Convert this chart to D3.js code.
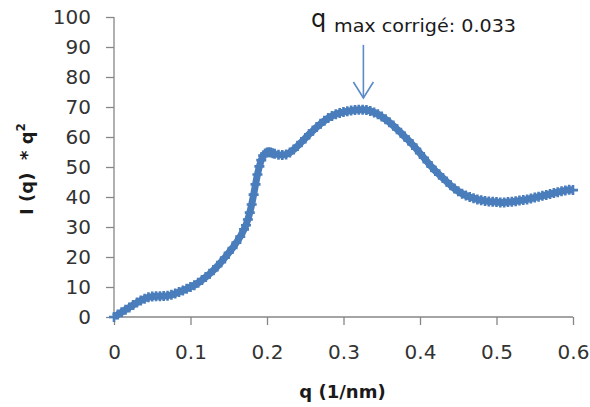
<!DOCTYPE html>
<html><head><meta charset="utf-8">
<script src="https://cdn.jsdelivr.net/npm/d3@7"></script>
<style>
html,body{margin:0;padding:0;background:#fff;}
svg{display:block;}
text{font-family:"DejaVu Sans",Verdana,sans-serif;}
</style></head>
<body>
<script>
// ---- data ----
const qValues = [
0.000,0.005,0.010,0.015,0.020,0.025,0.030,0.035,0.040,0.045,
0.050,0.055,0.060,0.065,0.070,0.075,0.080,0.085,0.090,0.095,
0.100,0.105,0.110,0.115,0.120,0.125,0.130,0.135,0.140,0.145,
0.150,0.155,0.160,0.165,0.170,0.1725,0.175,0.1775,0.180,0.1825,
0.185,0.1875,0.190,0.1925,0.195,0.1975,0.200,0.2025,0.205,0.2075,
0.210,0.215,0.220,0.225,0.230,0.235,0.240,0.245,0.250,0.255,
0.260,0.265,0.270,0.275,0.280,0.285,0.290,0.295,0.300,0.305,
0.310,0.315,0.320,0.325,0.330,0.335,0.340,0.345,0.350,0.355,
0.360,0.365,0.370,0.375,0.380,0.385,0.390,0.395,0.400,0.405,
0.410,0.415,0.420,0.425,0.430,0.435,0.440,0.445,0.450,0.455,
0.460,0.465,0.470,0.475,0.480,0.485,0.490,0.495,0.500,0.505,
0.510,0.515,0.520,0.525,0.530,0.535,0.540,0.545,0.550,0.555,
0.560,0.565,0.570,0.575,0.580,0.585,0.590,0.595,0.600
];
const intensityValues = [
0.0,0.8,1.6,2.4,3.2,4.0,4.8,5.5,6.1,6.6,
6.8,6.9,6.9,7.0,7.1,7.4,7.8,8.3,8.8,9.4,
10.0,10.6,11.4,12.3,13.3,14.4,15.6,16.9,18.3,19.8,
21.4,23.0,24.8,26.8,29.2,30.6,32.5,34.8,37.5,40.8,
44.2,47.5,50.2,52.3,53.8,54.5,54.8,54.9,54.8,54.6,
54.4,54.1,54.0,54.2,54.8,55.8,57.0,58.3,59.6,60.9,
62.1,63.3,64.4,65.4,66.3,67.0,67.6,68.0,68.3,68.6,
68.8,69.0,69.1,69.1,69.0,68.7,68.2,67.6,66.8,65.9,
64.9,63.8,62.6,61.4,60.1,58.9,57.5,56.1,54.6,53.1,
51.6,50.1,48.7,47.5,46.3,45.1,43.9,42.8,41.9,41.1,
40.5,40.0,39.6,39.2,38.9,38.7,38.5,38.4,38.3,38.2,
38.2,38.3,38.4,38.6,38.8,39.0,39.2,39.5,39.8,40.1,
40.4,40.7,41.0,41.3,41.6,41.9,42.2,42.4,42.3
];
const xTicks = [0,0.1,0.2,0.3,0.4,0.5,0.6];
const yTicks = [0,10,20,30,40,50,60,70,80,90,100];
const xTitle = "q (1/nm)";
const yTitleMain = "I (q)  * q";
const yTitleSup = "2";
const annoQ = "q";
const annoText = "max corrigé: 0.033";
const annoArrowQ = 0.326;
const annoArrowFrom = 90.7;
const annoArrowTo = 73;

// ---- layout ----
const W = 590, H = 407;
const mLeft = 114, mRight = 573, mTop = 17, mBottom = 317;
const axisColor = "#868686";
const seriesColor = "#4a7dbb";

const svg = d3.select("body").append("svg").attr("width", W).attr("height", H);

const x = d3.scaleLinear().domain([0, 0.6]).range([mLeft, mRight]);
const y = d3.scaleLinear().domain([0, 100]).range([mBottom, mTop]);

// Y axis
const yAxis = d3.axisLeft(y).tickValues(yTicks).tickSize(8).tickPadding(15).tickFormat(d3.format("d"));
const gy = svg.append("g").attr("transform", `translate(${mLeft},0)`).call(yAxis);
// X axis
const xAxis = d3.axisBottom(x).tickValues(xTicks).tickSize(8).tickPadding(20)
  .tickFormat(d => d === 0 ? "0" : d3.format(".1f")(d));
const gx = svg.append("g").attr("transform", `translate(0,${mBottom})`).call(xAxis);

[gx, gy].forEach(g => {
  g.select(".domain").attr("stroke", axisColor).attr("stroke-width", 1.3);
  g.selectAll(".tick line").attr("stroke", axisColor).attr("stroke-width", 1.3);
  g.selectAll(".tick text").attr("fill", "#333").style("font-size", "20px")
    .style("font-family", '"DejaVu Sans",Verdana,sans-serif');
});
gx.select(".domain").attr("d", `M${mLeft},0H${mRight}`);
gy.select(".domain").attr("d", `M0,${mTop}V${mBottom}`);

// data
const pts = qValues.map((q, i) => [q, intensityValues[i]]);
svg.append("path")
  .datum(pts)
  .attr("d", d3.line().x(d => x(d[0])).y(d => y(d[1])))
  .attr("fill", "none").attr("stroke", seriesColor).attr("stroke-width", 7)
  .attr("stroke-linejoin", "round");

const arm = 5;
svg.append("g").selectAll("path.m").data(pts).join("path")
  .attr("class", "m")
  .attr("d", d => {
    const cx = x(d[0]), cy = y(d[1]);
    return `M${cx-arm},${cy}H${cx+arm}M${cx},${cy-arm}V${cy+arm}`;
  })
  .attr("stroke", seriesColor).attr("stroke-width", 2.6).attr("fill", "none");

// axis titles
svg.append("text")
  .attr("x", (mLeft + mRight) / 2 - 1).attr("y", 398)
  .attr("text-anchor", "middle")
  .style("font-size", "18px").style("font-weight", "bold").attr("fill", "#1a1a1a")
  .text(xTitle);

const yt = svg.append("text")
  .attr("transform", `translate(33,${(mTop + mBottom) / 2 + 2}) rotate(-90)`)
  .attr("text-anchor", "middle")
  .style("font-size", "18px").style("font-weight", "bold").style("white-space", "pre")
  .attr("fill", "#1a1a1a");
yt.append("tspan").text(yTitleMain);
yt.append("tspan").attr("dy", -8).style("font-size", "12px").text(yTitleSup);

// annotation
svg.append("text").attr("x", 311).attr("y", 27)
  .style("font-size", "24px").attr("fill", "#1a1a1a").text(annoQ);
svg.append("text").attr("x", 334).attr("y", 32)
  .style("font-size", "18px").attr("fill", "#1a1a1a")
  .attr("textLength", 182).attr("lengthAdjust", "spacingAndGlyphs")
  .text(annoText);

const ax = x(annoArrowQ), ay0 = y(annoArrowFrom), ay1 = y(annoArrowTo);
const arrowColor = "#5b8bc7";
svg.append("line").attr("x1", ax).attr("x2", ax).attr("y1", ay0).attr("y2", ay1)
  .attr("stroke", arrowColor).attr("stroke-width", 1.6);
svg.append("path")
  .attr("d", `M${ax-10},${ay1-16}L${ax},${ay1}L${ax+10},${ay1-16}`)
  .attr("stroke", arrowColor).attr("stroke-width", 1.6).attr("fill", "none");
</script>
</body></html>
